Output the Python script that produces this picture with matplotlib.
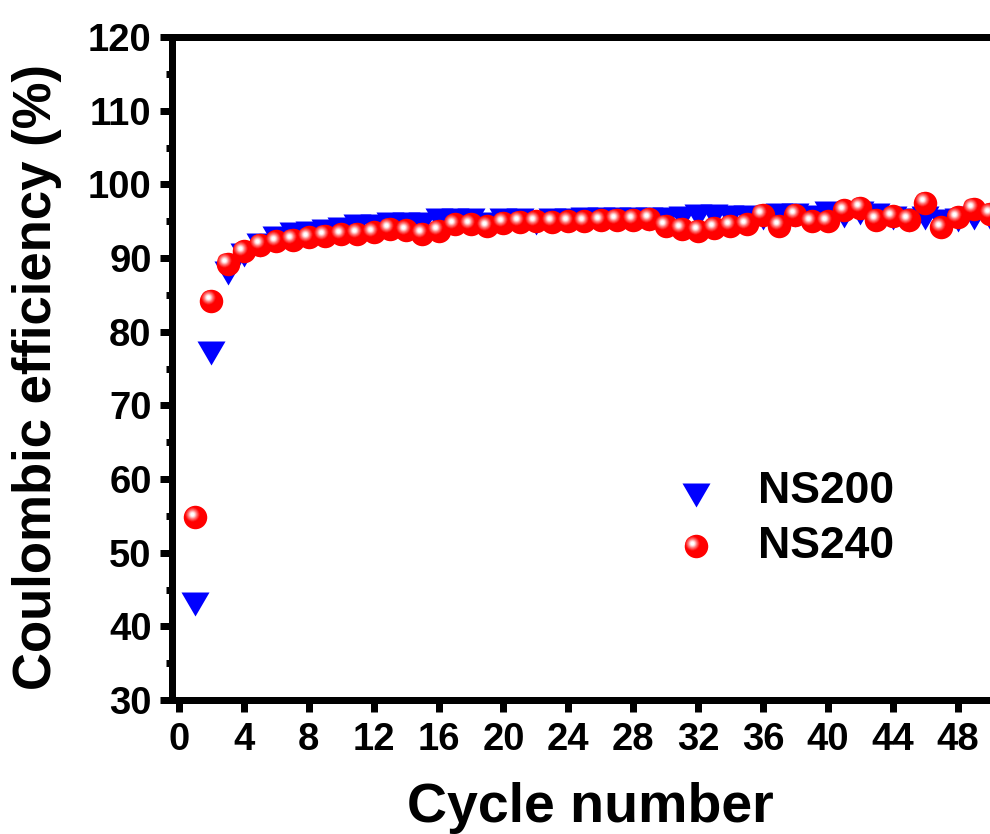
import numpy as np
import matplotlib
matplotlib.use("Agg")
import matplotlib.pyplot as plt
from matplotlib import transforms
from matplotlib.path import Path

plt.rcParams['font.family'] = ['Liberation Sans', 'DejaVu Sans']
plt.rcParams['font.weight'] = 'bold'

cycles = list(range(1, 51))
ns200 = [43.0, 77.1, 87.9, 90.4, 91.8, 92.7, 93.2, 93.4, 93.7, 94.0,
         94.3, 94.4, 94.6, 94.6, 94.6, 95.1, 95.1, 95.1, 94.6, 95.1,
         95.1, 94.8, 95.1, 95.1, 95.3, 95.3, 95.3, 95.3, 95.3, 95.3,
         95.4, 95.7, 95.7, 95.6, 95.5, 95.4, 95.8, 95.8, 95.6, 96.1,
         95.7, 96.1, 95.9, 95.4, 95.1, 95.4, 95.0, 95.2, 95.4, 95.4]
ns240 = [54.8, 84.2, 89.2, 90.9, 91.8, 92.3, 92.5, 92.8, 93.0, 93.2,
         93.3, 93.5, 94.0, 93.8, 93.3, 93.7, 94.6, 94.6, 94.3, 94.8,
         94.9, 95.0, 94.9, 95.0, 95.0, 95.1, 95.2, 95.2, 95.3, 94.4,
         94.0, 93.7, 94.1, 94.4, 94.6, 95.9, 94.4, 95.9, 95.0, 95.0,
         96.5, 96.8, 95.2, 95.7, 95.2, 97.5, 94.2, 95.5, 96.7, 96.0]
series_names = ['NS200', 'NS240']
xticks = list(range(0, 49, 4))
yticks = list(range(30, 121, 10))

W, H, DPI = 990, 834, 100
fig = plt.figure(figsize=(W / DPI, H / DPI), dpi=DPI)
ax = fig.add_axes([172 / W, 1 - 700 / H, 1 - 172 / W, (700 - 37) / H])
ax.set_xlim(-0.43, 50.0)
ax.set_ylim(30, 120)

# triangle marker: 28 px wide x 24 px tall
tri = Path([(-1, 0.857), (1, 0.857), (0, -0.857), (-1, 0.857)],
           [Path.MOVETO, Path.LINETO, Path.LINETO, Path.CLOSEPOLY])
px2pt = 72 / DPI
tri_size = (28 * px2pt) ** 2
sph_d = 23.5

def sphere(ax, x, y, transform, z0):
    ax.scatter([x], [y], s=(sph_d * px2pt) ** 2, color='#FF0000',
               linewidths=0, transform=transform, zorder=z0, clip_on=True)
    off = transforms.offset_copy(transform, fig=fig, x=-3.5, y=3.5, units='dots')
    diams = [14, 12, 10, 8, 6.5, 5, 3.5]
    cols = [(1, 0.12, 0.12), (1, 0.28, 0.28), (1, 0.45, 0.45), (1, 0.62, 0.62),
            (1, 0.78, 0.78), (1, 0.9, 0.9), (1, 1, 1)]
    for i, (d, c) in enumerate(zip(diams, cols)):
        ax.scatter([x], [y], s=(d * px2pt) ** 2, color=c, linewidths=0,
                   transform=off, zorder=z0 + 0.01 * (i + 1), clip_on=True)

ax.scatter(cycles, ns200, marker=tri, s=tri_size, color='#0000FF',
           linewidths=0, zorder=3)
for i, (cx, cy) in enumerate(zip(cycles, ns240)):
    sphere(ax, cx, cy, ax.transData, 4 + i * 0.1)

# legend (manual)
ax.scatter([0.640], [0.3097], marker=tri, s=tri_size, color='#0000FF',
           linewidths=0, transform=ax.transAxes, zorder=20)
sphere(ax, 0.640, 0.2318, ax.transAxes, 20)
ax.text(0.716, 0.315, series_names[0], transform=ax.transAxes, fontsize=32,
        fontweight='bold', va='center', ha='left')
ax.text(0.716, 0.231, series_names[1], transform=ax.transAxes, fontsize=32,
        fontweight='bold', va='center', ha='left')

lw = 7 * px2pt
for s in ['left', 'bottom', 'top']:
    ax.spines[s].set_linewidth(lw)
ax.spines['right'].set_visible(False)

ax.set_xticks(xticks)
ax.set_yticks(yticks)
ax.set_yticks(np.arange(35, 120, 10), minor=True)
ax.tick_params(axis='both', which='major', direction='out', length=12 * px2pt,
               width=7 * px2pt, labelsize=27.5, pad=7)
ax.tick_params(axis='y', which='major', pad=6)
ax.tick_params(axis='both', which='minor', direction='out', length=6 * px2pt,
               width=7 * px2pt)
ax.tick_params(top=False, right=False)
for lab in ax.get_xticklabels() + ax.get_yticklabels():
    lab.set_fontweight('bold')

ax.set_xlabel('Cycle number', fontsize=40, fontweight='bold')
ax.set_ylabel('Coulombic efficiency (%)', fontsize=38, fontweight='bold')
ax.xaxis.set_label_coords((590 - 172) / (W - 172), -(782 - 700) / 663)
ax.yaxis.set_label_coords(-(172 - 62) / (W - 172), (700 - 377) / 663)

fig.savefig('out.png', dpi=DPI)
